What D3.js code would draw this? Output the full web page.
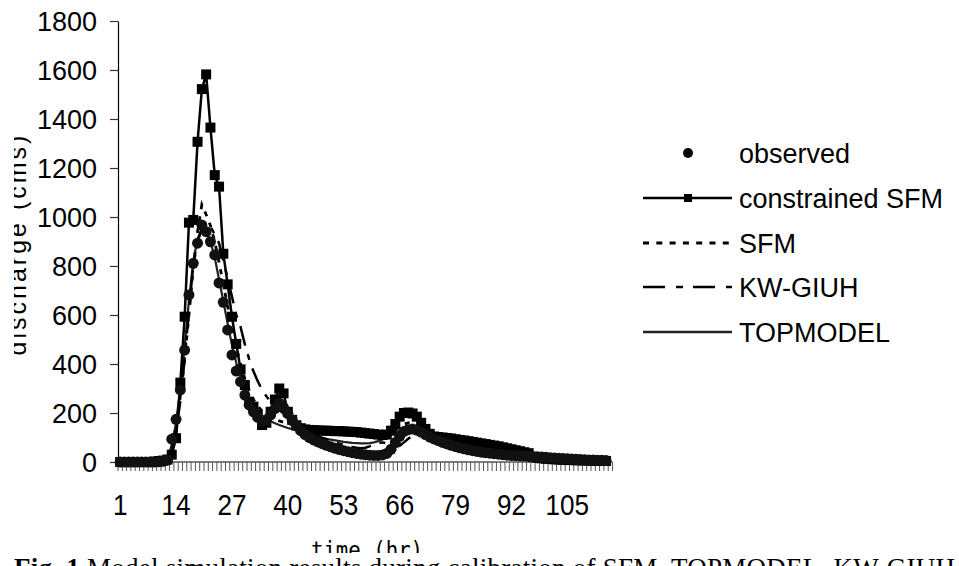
<!DOCTYPE html>
<html>
<head>
<meta charset="utf-8">
<script src="https://cdn.jsdelivr.net/npm/d3@7"></script>
<style>
  html, body { margin: 0; padding: 0; background: #fff; }
  svg { display: block; }
  text { font-family: "Liberation Sans", Arial, sans-serif; fill: #000; }
</style>
</head>
<body>
<script>
// ---------- DATA ----------
const hours = Array.from({ length: 115 }, (_, i) => i + 1);
const xTickLabels = ["1", "14", "27", "40", "53", "66", "79", "92", "105"];
const yTickValues = [0, 200, 400, 600, 800, 1000, 1200, 1400, 1600, 1800];
const seriesNames = ["observed", "constrained SFM", "SFM", "KW-GIUH", "TOPMODEL"];

const observed = [
  0,0,0,0,0,0,0,0,0,1,
  3,8,93,174,294,457,682,811,893,967,
  940,899,845,731,652,539,437,371,328,273,
  233,205,182,168,172,192,218,240,222,198,
  172,148,128,112,100,90,82,75,68,62,
  56,51,46,42,38,35,32,30,28,27,
  27,29,35,52,80,105,125,132,135,130,
  122,112,102,94,87,80,74,68,63,58,
  54,50,46,43,40,38,36,34,32,30,
  28,27,26,25,24,23,22,21,20,19,
  17,16,15,14,13,12,11,10,9,8,
  8,7,7,6
];
const constrainedSFM = [
  0,0,0,0,0,0,0,0,2,4,
  6,10,30,97,324,593,977,988,1307,1522,
  1582,1365,1171,1124,850,725,593,482,378,314,
  246,226,192,151,160,205,255,300,280,205,
  172,150,138,133,131,130,129,128,128,127,
  126,126,125,124,123,122,120,118,116,114,
  112,110,112,128,155,185,200,202,198,185,
  160,135,115,104,102,100,98,96,93,90,
  88,85,82,79,76,73,70,67,64,60,
  56,52,48,44,40,36,20,17,15,13,
  12,11,10,9,8,8,7,7,6,6,
  5,5,4,4
];
const sfm = [
  0,0,0,0,0,0,0,0,0,2,
  5,15,50,140,270,420,600,790,940,1050,
  1010,965,900,815,725,635,550,470,400,340,
  292,255,228,208,194,183,175,168,162,157,
  152,148,144,140,137,134,132,130,128,126,
  124,122,120,118,116,114,112,110,108,106,
  105,104,106,115,130,145,155,160,158,150,
  140,130,122,116,111,107,103,99,95,91,
  87,83,79,75,71,67,63,59,55,51,
  47,43,39,35,31,28,25,22,20,18,
  16,15,14,13,12,11,10,9,8,8,
  7,7,6,6
];
const kwGiuh = [
  0,0,0,0,0,0,0,0,0,1,
  3,10,40,120,250,420,620,800,900,950,
  965,960,930,893,820,750,675,600,552,480,
  420,370,330,295,268,246,228,212,198,185,
  172,160,148,136,125,115,106,98,92,86,
  80,75,70,65,61,58,56,58,64,72,
  78,80,76,70,62,66,80,95,108,115,
  116,114,110,105,100,95,90,85,80,75,
  70,66,62,58,54,50,46,42,38,34,
  30,27,24,21,19,17,15,14,13,12,
  11,10,9,8,8,7,7,6,6,5,
  5,4,4,4
];
const topmodel = [
  0,0,0,0,0,0,0,0,0,1,
  4,12,70,160,300,470,660,820,910,955,
  945,900,835,745,655,565,478,405,345,295,
  255,225,202,186,175,166,158,151,145,139,
  134,129,124,119,114,109,104,99,95,91,
  88,85,82,80,78,77,76,76,77,80,
  85,92,100,110,120,128,132,133,130,126,
  121,116,111,106,101,96,91,86,81,76,
  71,66,61,57,53,49,45,41,38,35,
  32,29,26,23,21,19,17,15,14,13,
  12,11,10,9,8,8,7,7,6,6,
  5,5,5,4
];

// ---------- CHART ----------
const W = 959, H = 566;
const svg = d3.select("body").append("svg").attr("width", W).attr("height", H);

const x = d3.scaleBand().domain(hours).range([118, 612.5]).paddingInner(0).paddingOuter(0);
const cx = h => x(h) + x.bandwidth() / 2;
const y = d3.scaleLinear().domain([0, 1800]).range([462, 21]);

// Y axis
const yAxis = svg.append("g").attr("transform", "translate(118,0)")
  .call(d3.axisLeft(y).tickValues(yTickValues).tickSize(8).tickSizeOuter(0).tickPadding(13).tickFormat(d3.format("d")));
yAxis.select(".domain").attr("stroke", "#000").attr("stroke-width", 1.2);
yAxis.selectAll(".tick line").attr("stroke", "#333").attr("stroke-width", 1.2);
yAxis.selectAll(".tick text").style("font-size", "27px").attr("fill", "#000")
  .style("font-family", '"Liberation Sans", Arial, sans-serif').attr("dy", "0.34em");

// X axis line and ticks at category boundaries
const xAxis = svg.append("g").attr("transform", "translate(0,462)");
xAxis.append("line").attr("x1", x.range()[0]).attr("x2", x.range()[1])
  .attr("y1", 0).attr("y2", 0).attr("stroke", "#000").attr("stroke-width", 1.2);
const bounds = hours.map(h => x(h)).concat([x.range()[1]]);
xAxis.selectAll("line.xt").data(bounds).join("line").attr("class", "xt")
  .attr("x1", d => d).attr("x2", d => d).attr("y1", 0).attr("y2", 9)
  .attr("stroke", "#555").attr("stroke-width", 1);

svg.selectAll("text.xl").data(xTickLabels).join("text").attr("class", "xl")
  .attr("transform", d => `translate(${cx(+d)},515) scale(0.87,1)`)
  .attr("text-anchor", "middle").style("font-size", "30px").text(d => d);

// Series lines
const line = d3.line().x((d, i) => cx(hours[i])).y(d => y(d));
const plot = svg.append("g");
plot.append("path").datum(topmodel).attr("d", line).attr("fill", "none")
  .attr("stroke", "#222").attr("stroke-width", 2.2);
plot.append("path").datum(kwGiuh).attr("d", line).attr("fill", "none")
  .attr("stroke", "#000").attr("stroke-width", 2.5).attr("stroke-dasharray", "20,9,6,9");
plot.append("path").datum(sfm).attr("d", line).attr("fill", "none")
  .attr("stroke", "#000").attr("stroke-width", 2.8).attr("stroke-dasharray", "5,7");
plot.append("path").datum(constrainedSFM).attr("d", line).attr("fill", "none")
  .attr("stroke", "#000").attr("stroke-width", 2.5);

// markers
const sq = 10;
plot.selectAll("rect.cs").data(constrainedSFM).join("rect").attr("class", "cs")
  .attr("x", (d, i) => cx(hours[i]) - sq / 2).attr("y", d => y(d) - sq / 2)
  .attr("width", sq).attr("height", sq).attr("fill", "#000");
plot.selectAll("circle.ob").data(observed).join("circle").attr("class", "ob")
  .attr("cx", (d, i) => cx(hours[i])).attr("cy", d => y(d)).attr("r", 5.5).attr("fill", "#111");

// Legend
const rows = [153, 198, 243, 287, 332];
const lg = svg.append("g");
const lx1 = 643, lx2 = 732, lmid = 688;
lg.append("circle").attr("cx", lmid).attr("cy", rows[0]).attr("r", 5).attr("fill", "#000");
lg.append("line").attr("x1", lx1).attr("x2", lx2).attr("y1", rows[1]).attr("y2", rows[1])
  .attr("stroke", "#000").attr("stroke-width", 2.7);
lg.append("rect").attr("x", lmid - 4).attr("y", rows[1] - 4).attr("width", 8).attr("height", 8).attr("fill", "#000");
lg.append("line").attr("x1", lx1).attr("x2", lx2).attr("y1", rows[2]).attr("y2", rows[2])
  .attr("stroke", "#000").attr("stroke-width", 3).attr("stroke-dasharray", "6,7.3");
lg.append("line").attr("x1", lx1).attr("x2", lx2).attr("y1", rows[3]).attr("y2", rows[3])
  .attr("stroke", "#000").attr("stroke-width", 2.7).attr("stroke-dasharray", "22,11,7,10");
lg.append("line").attr("x1", lx1).attr("x2", lx2).attr("y1", rows[4]).attr("y2", rows[4])
  .attr("stroke", "#222").attr("stroke-width", 2.5);
lg.selectAll("text").data(seriesNames).join("text")
  .attr("x", 739).attr("y", (d, i) => rows[i] + 10).style("font-size", "27px").text(d => d);

// Y axis title (partly cut off at the left edge)
const defs = svg.append("defs");
defs.append("clipPath").attr("id", "ytclip").append("rect")
  .attr("x", 14).attr("y", 0).attr("width", 30).attr("height", 566);
svg.append("g").attr("clip-path", "url(#ytclip)")
  .append("text").attr("transform", "translate(26,244) rotate(-90)")
  .attr("text-anchor", "middle").style("font-size", "25px").style("letter-spacing", "3px")
  .attr("fill", "#444").text("discharge  (cms)");

// X axis title
svg.append("text").attr("transform", "translate(367,558) scale(0.9,1)")
  .attr("text-anchor", "middle").style("font-family", '"DejaVu Sans Mono", monospace')
  .style("font-size", "23px").text("time (hr)");

// Caption (cut off at bottom, drawn over the axis title)
svg.append("rect").attr("x", 0).attr("y", 553).attr("width", W).attr("height", 13).attr("fill", "#fff");
const cap = svg.append("text").attr("x", 14).attr("y", 577)
  .style("font-family", '"Liberation Serif", "Times New Roman", serif').style("font-size", "27px")
  .attr("textLength", 941).attr("lengthAdjust", "spacing");
cap.append("tspan").style("font-weight", "bold").text("Fig. 1 ");
cap.append("tspan").text("Model simulation results during calibration of SFM, TOPMODEL, KW-GIUH");
</script>
</body>
</html>
